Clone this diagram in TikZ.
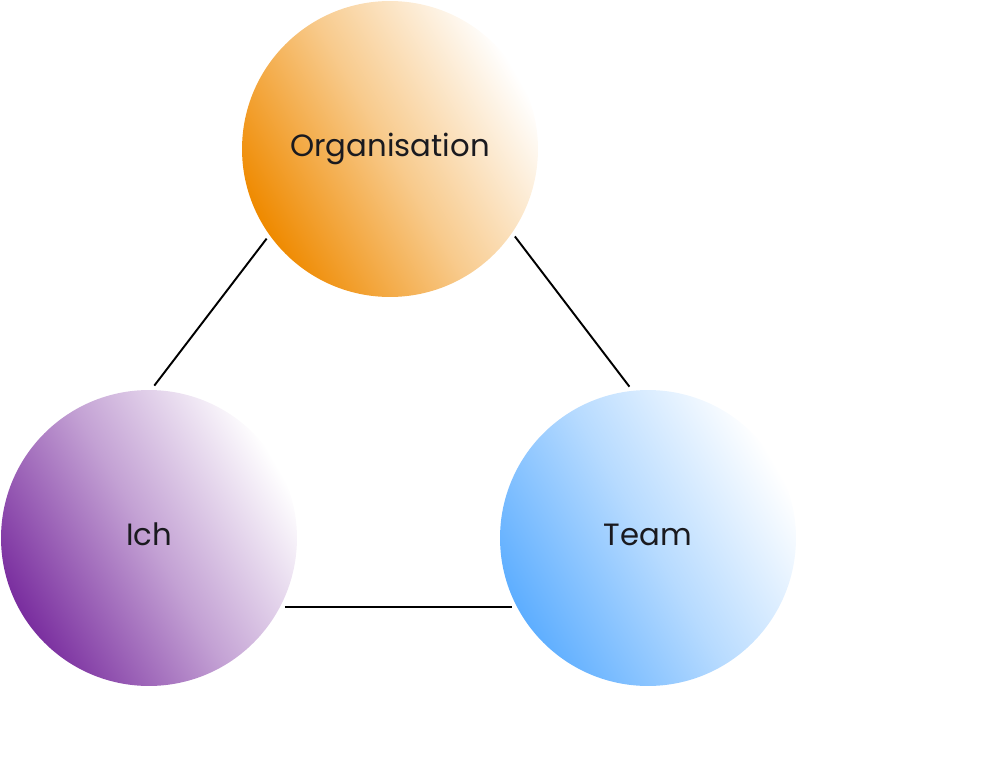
\documentclass[tikz,border=0pt]{standalone}
\usepackage{fontspec}
\setmainfont{Poppins}
\usepackage{tikz}

\definecolor{orgOrange}{HTML}{EF8A00}
\definecolor{ichLila}{HTML}{7A2E9F}
\definecolor{teamBlau}{HTML}{5EAEFF}
\definecolor{schrift}{HTML}{1A1A1F}

% Verlauf: unten links kraeftig, oben rechts weiss
\pgfdeclarehorizontalshading{orgVerlauf}{100bp}{color(0bp)=(orgOrange); color(25bp)=(orgOrange); color(50bp)=(orgOrange!45); color(75bp)=(white); color(100bp)=(white)}
\pgfdeclarehorizontalshading{ichVerlauf}{100bp}{color(0bp)=(ichLila); color(25bp)=(ichLila); color(50bp)=(ichLila!45); color(75bp)=(white); color(100bp)=(white)}
\pgfdeclarehorizontalshading{teamVerlauf}{100bp}{color(0bp)=(teamBlau); color(25bp)=(teamBlau); color(50bp)=(teamBlau!45); color(75bp)=(white); color(100bp)=(white)}

\tikzset{
  kreis/.style={circle, minimum size=5.92cm, outer sep=0.09cm, shading angle=30,
    text=schrift, font=\fontsize{17.5}{20}\selectfont, text height=12pt, text depth=3pt},
  verbindung/.style={line width=1.1pt, black}
}

\begin{document}
\begin{tikzpicture}[x=0.02cm, y=-0.02cm]
  \useasboundingbox (0,0) rectangle (1000,757);

  % die drei Kreise
  \node[kreis, shading=orgVerlauf]  (org)  at (390,149) {Organisation};
  \node[kreis, shading=ichVerlauf]  (ich)  at (149,538) {Ich};
  \node[kreis, shading=teamVerlauf] (team) at (648,538) {Team};

  % Verbindungen
  \draw[verbindung] (org.216) -- (ich.88);
  \draw[verbindung] (org.325) -- (team.97);
  \draw[verbindung] (ich.333) -- (team.207);
\end{tikzpicture}
\end{document}
